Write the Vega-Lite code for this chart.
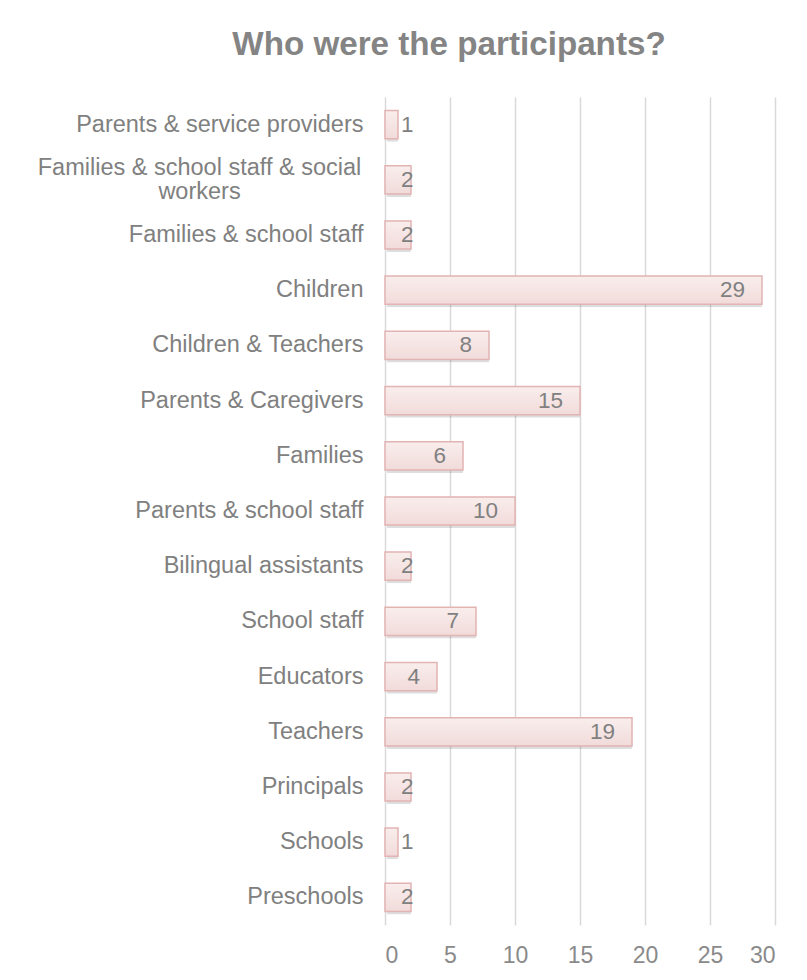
{
  "$schema": "https://vega.github.io/schema/vega-lite/v6.json",
  "autosize": {"type": "none"},
  "padding": {"left": 385, "top": 97, "right": 32, "bottom": 55},
  "width": 390,
  "height": 828,
  "background": "white",
  "config": {"view": {"stroke": null}, "font": "Liberation Sans"},
  "title": {
    "text": "Who were the participants?",
    "anchor": "middle",
    "dx": -131,
    "offset": 9,
    "baseline": "alphabetic",
    "fontSize": 33.2,
    "fontWeight": "bold",
    "color": "#848484",
    "font": "Liberation Sans"
  },
  "data": {
    "values": [
      {"group": "Parents & service providers", "count": 1},
      {"group": "Families & school staff & social workers", "count": 2},
      {"group": "Families & school staff", "count": 2},
      {"group": "Children", "count": 29},
      {"group": "Children & Teachers", "count": 8},
      {"group": "Parents & Caregivers", "count": 15},
      {"group": "Families", "count": 6},
      {"group": "Parents & school staff", "count": 10},
      {"group": "Bilingual assistants", "count": 2},
      {"group": "School staff", "count": 7},
      {"group": "Educators", "count": 4},
      {"group": "Teachers", "count": 19},
      {"group": "Principals", "count": 2},
      {"group": "Schools", "count": 1},
      {"group": "Preschools", "count": 2}
    ]
  },
  "encoding": {
    "y": {
      "field": "group",
      "type": "nominal",
      "sort": null,
      "scale": {"paddingInner": 0.49, "paddingOuter": 0.245},
      "axis": {
        "title": null,
        "domain": false,
        "ticks": false,
        "grid": false,
        "labelPadding": {"condition": {"test": "datum.value == 'Families & school staff & social workers'", "value": 186}, "value": 22},
        "labelAlign": {"condition": {"test": "datum.value == 'Families & school staff & social workers'", "value": "center"}, "value": "right"},
        "labelOffset": {"condition": {"test": "datum.value == 'Families & school staff & social workers'", "value": -12}, "value": 0},
        "labelFontSize": 23.5,
        "labelColor": "#808080",
        "labelLimit": 400,
        "labelLineHeight": 24.5,
        "labelExpr": "datum.value == 'Families & school staff & social workers' ? ['Families & school staff & social', 'workers'] : datum.value"
      }
    }
  },
  "layer": [
    {
      "mark": {"type": "bar", "fill": "#000000", "opacity": 0.13, "xOffset": 2, "yOffset": 3, "cornerRadius": 1},
      "encoding": {
        "x": {
          "field": "count",
          "type": "quantitative",
          "scale": {"domain": [0, 30], "nice": false},
          "axis": {
            "title": null,
            "values": [0, 5, 10, 15, 20, 25, 30],
            "domain": false,
            "ticks": false,
            "grid": true,
            "gridColor": "#d9d9d9",
            "gridWidth": 1.5,
            "labelPadding": 19,
            "labelFontSize": 23,
            "labelColor": "#8a8a8a"
          }
        }
      }
    },
    {
      "mark": {
        "type": "bar",
        "stroke": "#e2b4b3",
        "strokeWidth": 1.5,
        "fill": {
          "gradient": "linear",
          "x1": 0, "y1": 0, "x2": 0, "y2": 1,
          "stops": [
            {"offset": 0, "color": "#f9eeed"},
            {"offset": 1, "color": "#f1dbda"}
          ]
        }
      },
      "encoding": {
        "x": {"field": "count", "type": "quantitative"}
      }
    },
    {
      "transform": [{"filter": "datum.count >= 4"}],
      "mark": {"type": "text", "align": "right", "baseline": "middle", "dx": -17, "fontSize": 22.5, "color": "#808080"},
      "encoding": {
        "x": {"field": "count", "type": "quantitative"},
        "text": {"field": "count", "type": "quantitative"}
      }
    },
    {
      "transform": [{"filter": "datum.count < 4"}],
      "mark": {"type": "text", "align": "left", "baseline": "middle", "dx": 16, "fontSize": 22.5, "color": "#808080"},
      "encoding": {
        "x": {"datum": 0, "type": "quantitative"},
        "text": {"field": "count", "type": "quantitative"}
      }
    }
  ]
}
